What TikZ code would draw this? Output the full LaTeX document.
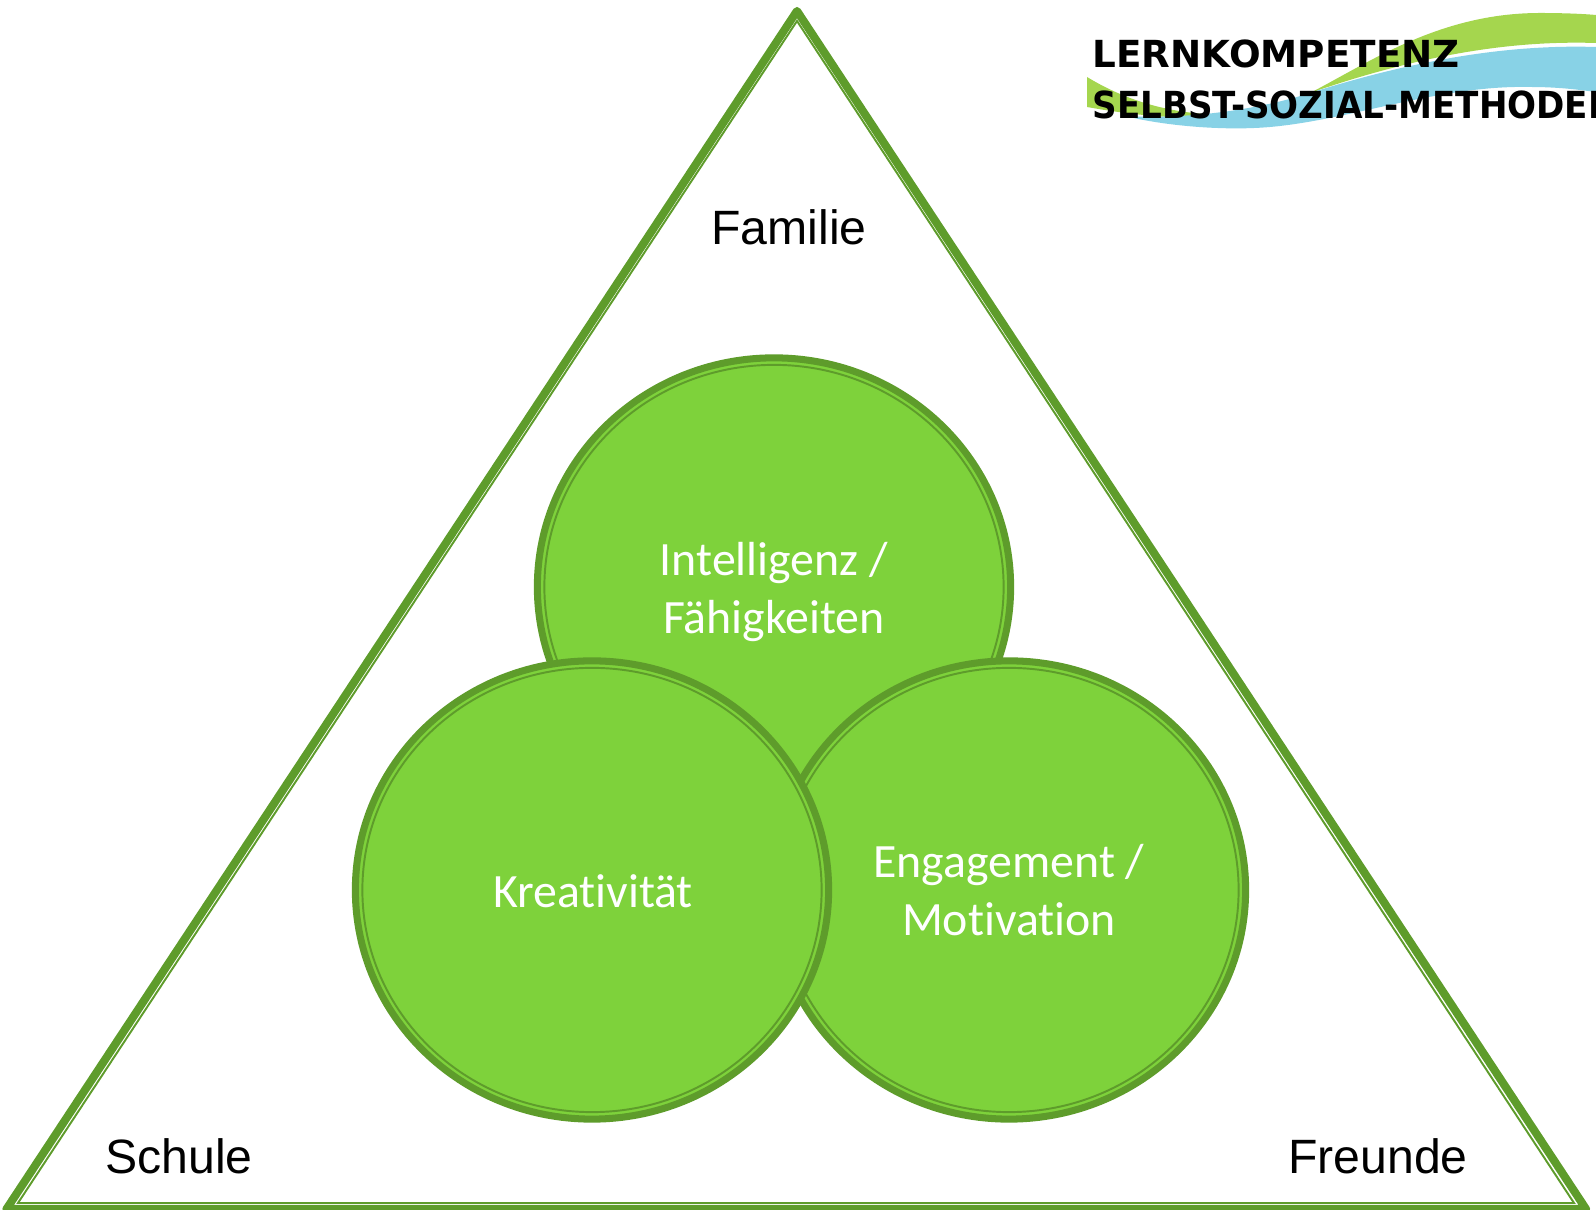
\documentclass[tikz,border=0pt]{standalone}
\usepackage{fontspec}
\setmainfont{Liberation Sans}
\newfontfamily\circlefont[Ligatures=NoCommon]{Carlito}
\newfontfamily\logofont{DejaVu Sans}
\definecolor{ringgreen}{RGB}{94,156,43}
\definecolor{fillgreen}{RGB}{126,210,59}
\definecolor{wavegreen}{RGB}{165,214,78}
\definecolor{waveblue}{RGB}{136,210,230}
\usetikzlibrary{shapes.geometric,positioning}
\tikzset{
    outerline/.style={draw=ringgreen, line width=2.3pt, line join=round},
    innerline/.style={draw=ringgreen, line width=0.55pt},
    bubble/.style={ellipse, draw=ringgreen, fill=fillgreen, line width=2pt, inner sep=0pt, minimum width=4.73cm, minimum height=4.58cm},
    bubbletext/.style={text=white, align=center, font=\circlefont\fontsize{13.6}{16.3}\selectfont},
    place/.style={font=\fontsize{13.7}{16}\selectfont, text=black},
    logotext/.style={anchor=base west, inner sep=0pt, font=\logofont\bfseries\fontsize{10.6}{12}\selectfont}
}

\begin{document}
\begin{tikzpicture}[x=0.01cm, y=-0.01cm]
    \useasboundingbox (0,0) rectangle (1596,1210);
    % logo
    \begin{scope}
        \clip (0,0) rectangle (1596,1210);
        \fill[wavegreen] (1310,93) .. controls (1370,62) and (1440,13) .. (1540,13) .. controls (1565,13) and (1585,14) .. (1596,15) -- (1596,43) .. controls (1530,41) and (1440,48) .. (1310,93) -- cycle;
        \fill[wavegreen] (1087,77) .. controls (1125,100) and (1170,115) .. (1230,115) -- (1200,118) .. controls (1160,118) and (1120,113) .. (1087,107) -- cycle;
        \fill[waveblue] (1596,47) .. controls (1530,45) and (1440,52) .. (1310,93) .. controls (1270,106) and (1200,120) .. (1125,116) .. controls (1165,126) and (1225,131) .. (1270,127) .. controls (1350,120) and (1440,85) .. (1530,87) .. controls (1560,87) and (1580,90) .. (1596,92) -- cycle;
        \node[logotext] (lernkompetenz) at (1092,68) {LERNKOMPETENZ};
        \node[logotext] (selbst) at (1092,119) {\scalebox{0.915}[1]{SELBST-SOZIAL-METHODEN}};
    \end{scope}
    % triangle
    \coordinate (top) at (797,11);
    \coordinate (left) at (6.5,1209);
    \coordinate (right) at (1586,1209);
    \coordinate (topin) at (797,21);
    \coordinate (leftin) at (18,1203);
    \coordinate (rightin) at (1574,1203);
    \draw[outerline] (top) -- (right) -- (left) -- cycle;
    \draw[innerline] (topin) -- (rightin) -- (leftin) -- cycle;
    % circles
    \foreach \name/\x/\y/\dx/\dy/\txt in {kompetenz/774/587/0/5/{Intelligenz /\\Fähigkeiten}, motivation/1009/890/0/0/{Engagement /\\Motivation}, kreativ/592/890/1/1/{Kreativität}} {
        \node[bubble] (\name) at (\x,\y) {};
        \draw[innerline] (\name.center) ellipse [x radius=2.295cm, y radius=2.22cm];
        \node[bubbletext] (\name-text) at (\x+\dx,\y+\dy) {\txt};
    }
    \node[place] (familie) at (789,227) {Familie};
    \node[place] (schule) at (179,1156) {Schule};
    \node[place] (freunde) at (1378,1156) {Freunde};
\end{tikzpicture}
\end{document}
